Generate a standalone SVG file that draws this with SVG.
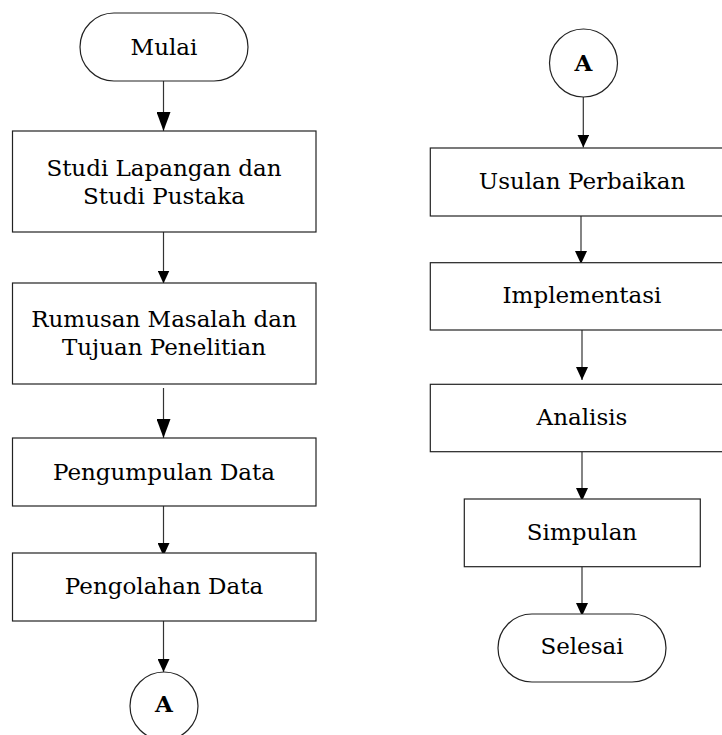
<svg xmlns="http://www.w3.org/2000/svg" width="722" height="735" viewBox="0 0 722 735">
<style>
.box{fill:#fff;stroke:#222;stroke-width:1.2}
.t{font-family:"DejaVu Serif","Liberation Serif",serif;font-size:23px;fill:#000;text-anchor:middle}
.ta{font-family:"DejaVu Serif","Liberation Serif",serif;font-size:23px;font-weight:bold;fill:#000;text-anchor:middle}
.c{stroke:#333;stroke-width:1.2;fill:none}
</style>
<defs>
<marker id="ah" markerUnits="userSpaceOnUse" markerWidth="13" markerHeight="12" viewBox="0 0 13 12" refX="13" refY="6" orient="auto"><path d="M0,0 L13,6 L0,12 z" fill="#000"/></marker>
<marker id="ahL" markerUnits="userSpaceOnUse" markerWidth="19" markerHeight="14" viewBox="0 0 19 14" refX="19" refY="7" orient="auto"><path d="M0,0 L19,7 L0,14 z" fill="#000"/></marker>
</defs>
<rect width="722" height="735" fill="#fff"/>
<g id="connectors">
<line class="c" x1="163.5" y1="81" x2="163.5" y2="131" marker-end="url(#ahL)"/>
<line class="c" x1="163.5" y1="232" x2="163.5" y2="283.5" marker-end="url(#ah)"/>
<line class="c" x1="163.5" y1="388" x2="163.5" y2="438" marker-end="url(#ahL)"/>
<line class="c" x1="163.5" y1="506" x2="163.5" y2="556" marker-end="url(#ah)"/>
<line class="c" x1="163.5" y1="621" x2="163.5" y2="672" marker-end="url(#ah)"/>
<line class="c" x1="583.3" y1="97" x2="583.3" y2="147.5" marker-end="url(#ah)"/>
<line class="c" x1="581" y1="216" x2="581" y2="264" marker-end="url(#ah)"/>
<line class="c" x1="582" y1="330" x2="582" y2="380" marker-end="url(#ah)"/>
<line class="c" x1="582" y1="452" x2="582" y2="501" marker-end="url(#ah)"/>
<line class="c" x1="582" y1="567" x2="582" y2="616" marker-end="url(#ah)"/>
</g>
<g id="mulai"><rect class="box" x="80" y="13" width="168" height="68" rx="34"/><text class="t" x="164" y="55">Mulai</text></g>
<g id="studi"><rect class="box" x="12.5" y="131" width="303.5" height="101"/><text class="t" x="164" y="176">Studi Lapangan dan</text><text class="t" x="164" y="204">Studi Pustaka</text></g>
<g id="rumusan"><rect class="box" x="12.5" y="283" width="303.5" height="101"/><text class="t" x="164" y="327">Rumusan Masalah dan</text><text class="t" x="164" y="355">Tujuan Penelitian</text></g>
<g id="pengumpulan"><rect class="box" x="12.5" y="438" width="303.5" height="68"/><text class="t" x="164" y="480">Pengumpulan Data</text></g>
<g id="pengolahan"><rect class="box" x="12.5" y="553" width="303.5" height="68"/><text class="t" x="164" y="594">Pengolahan Data</text></g>
<g id="a-left"><circle class="box" cx="164" cy="706" r="34"/><text class="ta" x="164" y="712">A</text></g>
<g id="a-right"><circle class="box" cx="583.5" cy="63" r="34"/><text class="ta" x="583.5" y="71">A</text></g>
<g id="usulan"><rect class="box" x="430.3" y="148" width="304" height="68"/><text class="t" x="582" y="189">Usulan Perbaikan</text></g>
<g id="implementasi"><rect class="box" x="430.3" y="262.7" width="304" height="67.3"/><text class="t" x="582" y="303">Implementasi</text></g>
<g id="analisis"><rect class="box" x="430.3" y="384.3" width="304" height="67.4"/><text class="t" x="582" y="425">Analisis</text></g>
<g id="simpulan"><rect class="box" x="464.3" y="499" width="236" height="67.7"/><text class="t" x="582" y="540">Simpulan</text></g>
<g id="selesai"><rect class="box" x="498" y="614" width="168" height="68" rx="34"/><text class="t" x="582" y="654">Selesai</text></g>
</svg>
